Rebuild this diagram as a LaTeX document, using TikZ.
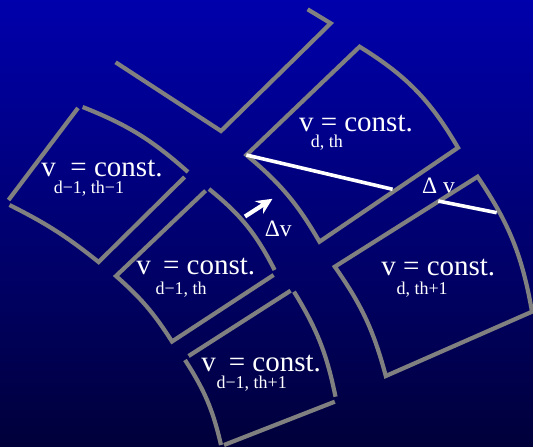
\documentclass[tikz,border=0pt]{standalone}
\usepackage{fontspec}
\setmainfont{Liberation Serif}
\usetikzlibrary{arrows.meta}
\definecolor{bgtop}{RGB}{0,0,172}
\definecolor{bgbot}{RGB}{0,0,58}
\definecolor{cellgray}{RGB}{128,128,128}
\begin{document}
\begin{tikzpicture}[x=1pt,y=-1pt,
  cell/.style={draw=cellgray,line width=4.2pt},
  whiteline/.style={draw=white,line width=3.6pt},
  lab/.style={text=white,inner sep=0pt,anchor=base west,font=\fontsize{29}{29}\selectfont},
  sublab/.style={text=white,inner sep=0pt,anchor=base west,font=\fontsize{18}{18}\selectfont},
  dlab/.style={text=white,inner sep=0pt,anchor=base west,font=\fontsize{23.5}{23.5}\selectfont}]
\useasboundingbox (0,0) rectangle (533,447);
\shade[top color=bgtop,bottom color=bgbot] (0,0) rectangle (533,447);

% labels
\node[lab] (mA) at (41.2,176) {v\hspace{14.6pt}= const.};
\node[sublab] (sA) at (53.6,193.3) {d−1, th−1};
\node[lab] (mB) at (136.2,274.3) {v\hspace{12.2pt}= const.};
\node[sublab] (sB) at (155.3,294) {d−1, th};
\node[lab] (mC) at (201.2,371.7) {v\hspace{12.9pt}= const.};
\node[sublab] (sC) at (216.3,388.3) {d−1, th+1};
\node[lab] (mD) at (298.8,131.7) {v = const.};
\node[sublab] (sD) at (310.6,147.3) {d, th};
\node[lab] (mE) at (381.2,275) {v = const.};
\node[sublab] (sE) at (396.3,294.3) {d, th+1};
\node[dlab] (dv1) at (264.6,236.7) {Δv};
\node[dlab] (dv2) at (422,193.5) {Δ v};

% shape 1 (partial)
\draw[cell] (115.6,62.3) -- (221,131) -- (330.7,23.3) -- (307.6,9.3);
% shape 2
\draw[cell] (78,108) -- (8.5,200);
\draw[cell] (9.5,205) to[bend left=6] (98.6,262) -- (184.6,177);
\draw[cell] (82.6,107) to[bend left=10] (188,172);
% shape 3
\draw[cell] (205.6,190.7) -- (116,276) to[bend left=8] (172,341.5) -- (273.6,275);
\draw[cell] (209,189) to[bend left=12] (274.6,270);
% shape 4
\draw[cell] (188.6,356) -- (290.6,290.7);
\draw[cell] (294,291.7) to[bend left=10] (335.5,396.7);
\draw[cell] (334.8,401.7) -- (224,445);
\draw[cell] (185,360) to[bend left=10] (221,445);
% shape 5
\draw[cell] (359.6,46.7) -- (246.4,155) to[bend left=10] (319.5,241.7) -- (458,147.7) to[bend right=14] (359.6,46.7) -- cycle;
% shape 6
\draw[cell] (477.6,176.7) -- (334.8,266.7) to[bend left=10] (385.8,376) -- (532,311.7) to[bend right=12] (477.6,176.7) -- cycle;

% delta lines
\coordinate (w1a) at (246.4,155);
\coordinate (w1b) at (392.6,189.3);
\coordinate (w2a) at (438.3,201);
\coordinate (w2b) at (496.7,212.7);
\draw[whiteline] (w1a) -- (w1b);
\draw[whiteline] (w2a) -- (w2b);

% arrow
\coordinate (atail) at (245,216.5);
\coordinate (atip) at (272.5,198.8);
\draw[white,line width=4.2pt,-{Stealth[length=16pt,width=15pt]}] (atail) -- (atip);
\end{tikzpicture}
\end{document}
